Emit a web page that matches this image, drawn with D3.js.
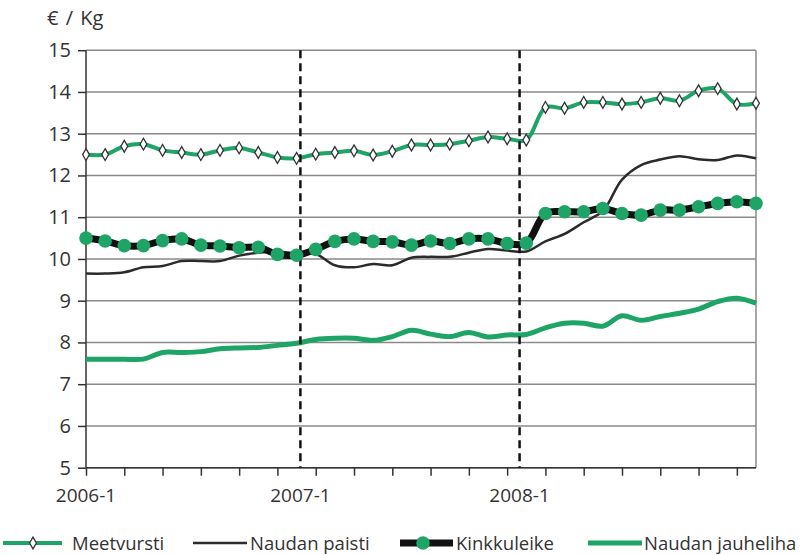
<!DOCTYPE html>
<meta charset="utf-8">
<head>
<title>€ / Kg, 2006-2008</title>
<style>
body { margin: 0; background: #fff; }
text { font-family: "Open Sans", sans-serif; fill: #333; }
.grid line { stroke: #8a8a8a; stroke-width: 1.5px; }
.axis path, .axis line { stroke: #333; stroke-width: 1.5px; }
</style>
</head>
<body>
<script src="https://d3js.org/d3.v7.min.js"></script>
<div id="chart"></div>
<script>

// months 2006-1 .. 2008-12
var months = d3.range(36);
var yTicks = [5, 6, 7, 8, 9, 10, 11, 12, 13, 14, 15];
var xLabels = ["2006-1", "2007-1", "2008-1"];
var xLabelAt = [0, 11.2, 22.65];   // where the labels and year dividers sit
var seriesNames = ["Meetvursti", "Naudan paisti", "Kinkkuleike", "Naudan jauheliha"];

var meetvursti = [12.5, 12.5, 12.7, 12.75, 12.6, 12.55, 12.5, 12.6, 12.66, 12.55, 12.43, 12.41,
  12.51, 12.55, 12.59, 12.49, 12.58, 12.73, 12.73, 12.75, 12.83, 12.92, 12.88, 12.85,
  13.63, 13.61, 13.75, 13.75, 13.71, 13.75, 13.85, 13.79, 14.03, 14.08, 13.71, 13.73];
var naudanPaisti = [9.65, 9.65, 9.68, 9.8, 9.83, 9.95, 9.95, 9.95, 10.08, 10.15, 10.18, 10.13,
  10.12, 9.85, 9.8, 9.88, 9.85, 10.03, 10.05, 10.05, 10.15, 10.24, 10.2, 10.18,
  10.42, 10.6, 10.88, 11.15, 11.9, 12.25, 12.38, 12.46, 12.39, 12.37, 12.48, 12.41];
var kinkkuleike = [10.5, 10.43, 10.32, 10.32, 10.44, 10.48, 10.33, 10.31, 10.27, 10.28, 10.11, 10.09,
  10.23, 10.42, 10.48, 10.42, 10.41, 10.33, 10.43, 10.37, 10.48, 10.48, 10.37, 10.38,
  11.09, 11.13, 11.13, 11.21, 11.09, 11.05, 11.17, 11.17, 11.25, 11.33, 11.37, 11.33];
var naudanJauheliha = [7.6, 7.6, 7.6, 7.6, 7.76, 7.76, 7.78, 7.85, 7.87, 7.88, 7.93, 7.98,
  8.07, 8.1, 8.1, 8.05, 8.14, 8.29, 8.2, 8.14, 8.24, 8.13, 8.18, 8.19,
  8.35, 8.46, 8.46, 8.39, 8.64, 8.53, 8.62, 8.7, 8.8, 8.98, 9.06, 8.94];

var width = 806, height = 555;
var green = "#1da466";

var svg = d3.select("#chart").append("svg")
    .attr("width", width)
    .attr("height", height);

var x = d3.scaleLinear().domain([0, 35]).range([86, 756]);
var y = d3.scaleLinear().domain([5, 15]).range([467.7, 50.2]);

// horizontal grid
svg.append("g").attr("class", "grid")
  .selectAll("line").data(yTicks).enter().append("line")
    .attr("x1", x(0)).attr("x2", x(35))
    .attr("y1", function(d) { return y(d); })
    .attr("y2", function(d) { return y(d); });

// right border
svg.append("line")
    .attr("x1", x(35)).attr("x2", x(35))
    .attr("y1", y(15)).attr("y2", y(5))
    .attr("stroke", "#8a8a8a").attr("stroke-width", 1.5);

// y axis
var yAxis = svg.append("g").attr("class", "axis")
    .attr("transform", "translate(" + x(0) + ",0)")
    .call(d3.axisLeft(y).tickValues(yTicks).tickSize(8).tickPadding(7).tickFormat(d3.format("d")));
yAxis.select(".domain").attr("d", "M0," + y(15) + "V" + y(5));
yAxis.selectAll("text").style("font-size", "20px").attr("fill", "#333");

// x axis: ticks every second month, labels once a year
var xAxis = svg.append("g").attr("class", "axis")
    .attr("transform", "translate(0," + y(5) + ")")
    .call(d3.axisBottom(x).tickValues(d3.range(0, 35, 2)).tickSize(8).tickFormat(""));
xAxis.select(".domain").attr("d", "M" + x(0) + ",0H" + x(35));

svg.append("g").selectAll("text").data(xLabels).enter().append("text")
    .attr("x", function(d, i) { return x(xLabelAt[i]); })
    .attr("y", 502)
    .attr("text-anchor", "middle")
    .style("font-size", "19px")
    .text(function(d) { return d; });

svg.append("text")
    .attr("x", 47).attr("y", 25)
    .style("font-size", "20px")
    .style("word-spacing", "2px")
    .text("€ / Kg");

var line = d3.line()
    .x(function(d, i) { return x(i); })
    .y(function(d) { return y(d); })
    .curve(d3.curveCatmullRom.alpha(0.5));

svg.append("path").datum(naudanJauheliha)
    .attr("d", line).attr("fill", "none")
    .attr("stroke", green).attr("stroke-width", 5);

svg.append("path").datum(meetvursti)
    .attr("d", line).attr("fill", "none")
    .attr("stroke", green).attr("stroke-width", 4);

svg.append("path").datum(naudanPaisti)
    .attr("d", line).attr("fill", "none")
    .attr("stroke", "#2b2b2b").attr("stroke-width", 2.5);

svg.append("path").datum(kinkkuleike)
    .attr("d", line).attr("fill", "none")
    .attr("stroke", "#111").attr("stroke-width", 7);

// year dividers
svg.append("g").selectAll("line").data(xLabelAt.slice(1)).enter().append("line")
    .attr("x1", function(d) { return x(d); })
    .attr("x2", function(d) { return x(d); })
    .attr("y1", y(15)).attr("y2", y(5))
    .attr("stroke", "#111").attr("stroke-width", 2.5)
    .attr("stroke-dasharray", "8,5");

var diamond = d3.symbol().type(d3.symbolDiamond).size(40);

svg.append("g").selectAll("path").data(meetvursti).enter().append("path")
    .attr("d", diamond)
    .attr("transform", function(d, i) { return "translate(" + x(i) + "," + y(d) + ")"; })
    .attr("fill", "#fff").attr("stroke", "#333").attr("stroke-width", 1.3);

svg.append("g").selectAll("circle").data(kinkkuleike).enter().append("circle")
    .attr("cx", function(d, i) { return x(i); })
    .attr("cy", function(d) { return y(d); })
    .attr("r", 6.8)
    .attr("fill", green);

// legend
var legendX = [3, 193, 400, 588];
var legendY = 543;
var leg = svg.append("g");

leg.append("line").attr("x1", legendX[0]).attr("x2", legendX[0] + 59)
    .attr("y1", legendY).attr("y2", legendY)
    .attr("stroke", green).attr("stroke-width", 4);
leg.append("path").attr("d", diamond)
    .attr("transform", "translate(" + (legendX[0] + 30) + "," + legendY + ")")
    .attr("fill", "#fff").attr("stroke", "#333").attr("stroke-width", 1.3);

leg.append("line").attr("x1", legendX[1]).attr("x2", legendX[1] + 54)
    .attr("y1", legendY).attr("y2", legendY)
    .attr("stroke", "#2b2b2b").attr("stroke-width", 2.5);

leg.append("line").attr("x1", legendX[2]).attr("x2", legendX[2] + 53)
    .attr("y1", legendY).attr("y2", legendY)
    .attr("stroke", "#111").attr("stroke-width", 7);
leg.append("circle").attr("cx", legendX[2] + 23).attr("cy", legendY).attr("r", 6.8)
    .attr("fill", green);

leg.append("line").attr("x1", legendX[3]).attr("x2", legendX[3] + 54)
    .attr("y1", legendY).attr("y2", legendY)
    .attr("stroke", green).attr("stroke-width", 5);

var textOffset = [69, 57, 56, 56];
leg.selectAll("text").data(seriesNames).enter().append("text")
    .attr("x", function(d, i) { return legendX[i] + textOffset[i]; })
    .attr("y", legendY + 7)
    .style("font-size", "18.5px")
    .text(function(d) { return d; });

</script>
</body>
